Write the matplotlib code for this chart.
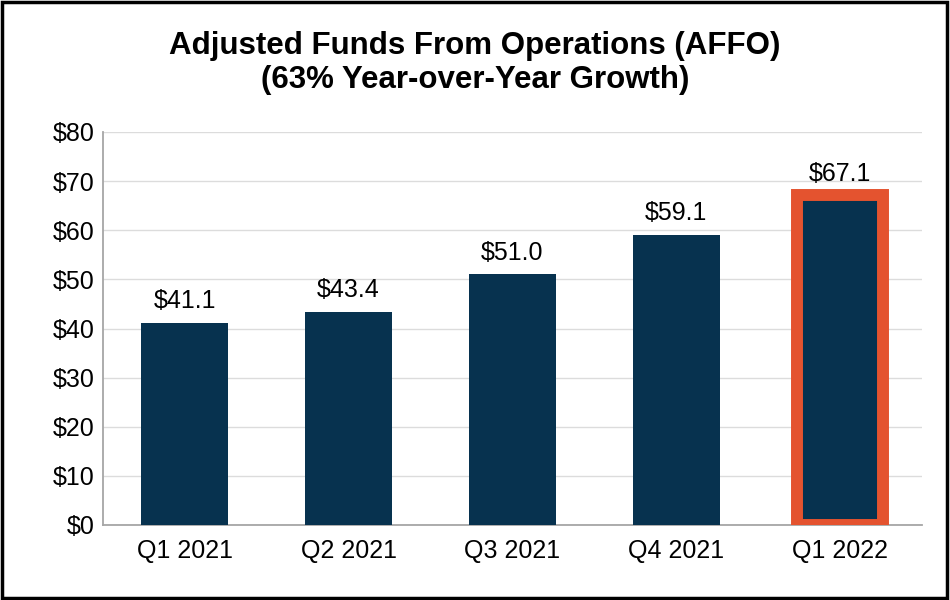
import matplotlib.pyplot as plt
from matplotlib.patches import Rectangle

quarters = ["Q1 2021", "Q2 2021", "Q3 2021", "Q4 2021", "Q1 2022"]
affo = [41.1, 43.4, 51.0, 59.1, 67.1]
y_ticks = [0, 10, 20, 30, 40, 50, 60, 70, 80]

navy = "#07324f"
orange = "#e4532f"

plt.rcParams["font.family"] = ["Liberation Sans", "DejaVu Sans"]

fig = plt.figure(figsize=(9.5, 6), dpi=100)
ax = fig.add_axes([0.1084, 0.125, 0.862, 0.655])

x = list(range(len(quarters)))
bars = ax.bar(x, affo, width=0.53, color=navy, zorder=3)

# highlight last quarter
bars[-1].set_edgecolor(orange)
bars[-1].set_linewidth(8.6)

for i in range(len(affo)):
    ax.text(x[i], affo[i] + 2.0, "$%.1f" % affo[i], ha="center", va="bottom",
            fontsize=18, color="black", zorder=4)

ax.set_xlim(-0.5, len(quarters) - 0.5)
ax.set_ylim(0, 80)
ax.set_yticks(y_ticks)
ax.set_yticklabels(["$%d" % v for v in y_ticks])
ax.set_xticks(x)
ax.set_xticklabels(quarters)
ax.tick_params(axis="both", length=0, labelsize=18, colors="black")
ax.tick_params(axis="y", pad=6)
ax.tick_params(axis="x", pad=10)

ax.grid(axis="y", color="#dcdcdc", linewidth=1, zorder=0)
ax.spines["top"].set_visible(False)
ax.spines["right"].set_visible(False)
ax.spines["left"].set_color("#a6a6a6")
ax.spines["bottom"].set_color("#a6a6a6")
ax.spines["left"].set_linewidth(1.3)
ax.spines["bottom"].set_linewidth(1.3)

fig.text(0.5, 0.895, "Adjusted Funds From Operations (AFFO)\n(63% Year-over-Year Growth)",
         ha="center", va="center", fontsize=22.5, fontweight="bold", linespacing=1.15)

# outer black frame
fig.patches.append(Rectangle((0.002, 0.003), 0.995, 0.994, transform=fig.transFigure,
                             fill=False, edgecolor="black", linewidth=2.5))

plt.savefig("out.png", dpi=100)
plt.close()
